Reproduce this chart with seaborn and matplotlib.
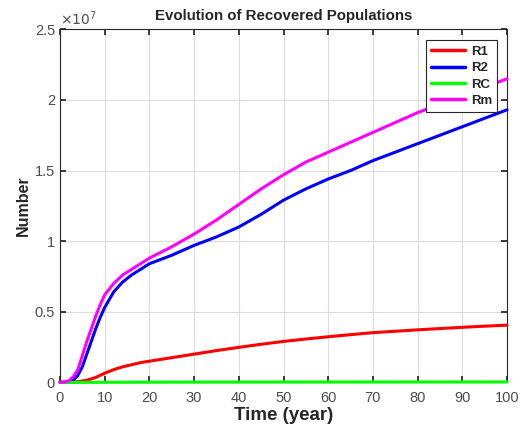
import matplotlib
matplotlib.use("Agg")
import matplotlib.pyplot as plt
import numpy as np
import pandas as pd
import seaborn as sns
from matplotlib.ticker import FuncFormatter, MultipleLocator

# values, in units of 1e7 people
years = [0, 1, 2, 3, 4, 5, 6, 7, 8, 9, 10, 12, 14, 16, 18, 20, 25, 30, 35, 40,
         45, 50, 55, 60, 65, 70, 75, 80, 85, 90, 95, 100]
r1 = [0, 0, 0.001, 0.002, 0.005, 0.01, 0.015, 0.025, 0.035, 0.05, 0.065, 0.09,
      0.11, 0.125, 0.14, 0.15, 0.175, 0.20, 0.225, 0.248, 0.27, 0.29, 0.307,
      0.323, 0.338, 0.352, 0.362, 0.372, 0.381, 0.39, 0.398, 0.405]
r2 = [0, 0.001, 0.005, 0.015, 0.05, 0.11, 0.20, 0.29, 0.38, 0.46, 0.53, 0.64,
      0.71, 0.76, 0.80, 0.84, 0.90, 0.97, 1.03, 1.10, 1.19, 1.29, 1.37, 1.44,
      1.50, 1.57, 1.63, 1.69, 1.75, 1.81, 1.87, 1.93]
rc = [0, 0, 0, 0, 0, 0.0001, 0.0002, 0.0003, 0.0004, 0.0005, 0.0006, 0.0008,
      0.001, 0.0011, 0.0012, 0.0013, 0.0015, 0.0017, 0.0019, 0.002, 0.0022,
      0.0023, 0.0024, 0.0025, 0.0026, 0.0027, 0.0028, 0.0029, 0.003, 0.003,
      0.0031, 0.0032]
rm = [0, 0.003, 0.012, 0.04, 0.09, 0.19, 0.29, 0.38, 0.47, 0.55, 0.62, 0.70,
      0.76, 0.80, 0.84, 0.88, 0.96, 1.05, 1.15, 1.26, 1.37, 1.47, 1.56, 1.63,
      1.70, 1.77, 1.84, 1.91, 1.97, 2.03, 2.09, 2.15]
series = {"R1": r1, "R2": r2, "RC": rc, "Rm": rm}
colors = {"R1": "#ff0000", "R2": "#0000ff", "RC": "#00ff00", "Rm": "#ff00ff"}

df = pd.concat(
    [pd.DataFrame({"Time": years, "Number": np.array(v) * 1e7, "Group": k})
     for k, v in series.items()],
    ignore_index=True,
)

sns.set_theme(style="ticks")
plt.rcParams["font.family"] = ["Liberation Sans", "DejaVu Sans"]

fig = plt.figure(figsize=(5.26, 4.37), dpi=100)
ax = fig.add_axes([0.114, 0.125, 0.850, 0.808])

sns.lineplot(data=df, x="Time", y="Number", hue="Group", palette=colors,
             linewidth=2.2, ax=ax)
for line in ax.get_lines():
    line.set_clip_on(False)
    line.set_zorder(3)

ax.set_xlim(0, 100)
ax.set_ylim(0, 2.5e7)
ax.xaxis.set_major_locator(MultipleLocator(10))
ax.yaxis.set_major_locator(MultipleLocator(0.5e7))
ax.yaxis.set_major_formatter(FuncFormatter(lambda v, p: f"{v / 1e7:g}"))
ax.grid(True, color="#dcdcdc", linewidth=0.8)
ax.tick_params(direction="in", top=True, right=True, length=4,
               labelsize=10.5, colors="#262626", labelcolor="#4d4d4d")
ax.tick_params(axis="x", pad=6)
for s in ax.spines.values():
    s.set_color("#262626")
    s.set_linewidth(0.8)

ax.text(0.0, 1.005, r"$\times10^{7}$", transform=ax.transAxes,
        fontsize=10, color="#4d4d4d", ha="left", va="bottom")
ax.set_title("Evolution of Recovered Populations", fontsize=10.8,
             fontweight="bold", pad=6.5)
ax.set_xlabel("Time (year)", fontsize=13.5, fontweight="bold", color="#262626",
              labelpad=2)
ax.set_ylabel("Number", fontsize=11.5, fontweight="bold", color="#262626",
              labelpad=3)

leg = ax.legend(loc="upper right", bbox_to_anchor=(0.978, 0.969),
                fancybox=False, framealpha=1, edgecolor="#262626",
                prop={"weight": "bold", "size": 9.5}, handlelength=2.6,
                handletextpad=0.4, borderpad=0.4, labelspacing=0.32,
                borderaxespad=0)
leg.get_frame().set_linewidth(0.8)
for line in leg.get_lines():
    line.set_linewidth(2.5)

fig.savefig("out.png", dpi=100)
